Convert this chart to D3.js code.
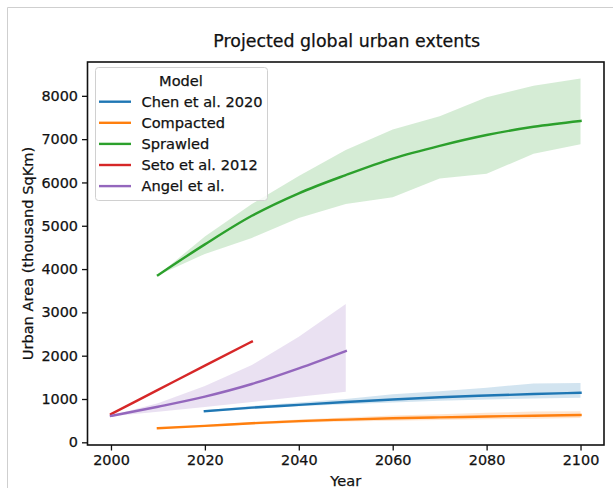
<!DOCTYPE html>
<html>
<head>
<meta charset="utf-8">
<script src="https://cdn.jsdelivr.net/npm/d3@7/dist/d3.min.js"></script>
<style>
  html, body { margin: 0; padding: 0; background: #fff; }
  svg { display: block; font-family: "DejaVu Sans", sans-serif; }
  .txt { fill: #111; stroke: #111; stroke-width: 0.25px; }
</style>
</head>
<body>
<svg id="chart" width="613" height="488"></svg>
<script>
// Projected global urban extent (thousand sq km) by model, per decade
const xTicks = [2000, 2020, 2040, 2060, 2080, 2100];
const yTicks = [0, 1000, 2000, 3000, 4000, 5000, 6000, 7000, 8000];

const chenYears  = [2020, 2030, 2040, 2050, 2060, 2070, 2080, 2090, 2100];
const chenMean   = [720, 800, 865, 930, 990, 1040, 1080, 1115, 1145];
const chenUpper  = [740, 840, 920, 1000, 1110, 1180, 1260, 1360, 1370];
const chenLower  = [700, 770, 830, 880, 920, 960, 990, 1010, 1030];

const compYears  = [2010, 2020, 2030, 2040, 2050, 2060, 2070, 2080, 2090, 2100];
const compMean   = [325, 380, 440, 490, 525, 555, 575, 595, 615, 630];
const compUpper  = [335, 400, 465, 525, 575, 620, 650, 680, 710, 720];
const compLower  = [315, 360, 410, 450, 480, 500, 515, 530, 545, 560];

const sprawlYears = [2010, 2020, 2030, 2040, 2050, 2060, 2070, 2080, 2090, 2100];
const sprawlMean  = [3860, 4570, 5230, 5750, 6170, 6550, 6845, 7095, 7285, 7420];
const sprawlUpper = [3860, 4750, 5500, 6150, 6750, 7220, 7530, 7970, 8230, 8400];
const sprawlLower = [3860, 4350, 4720, 5180, 5500, 5660, 6090, 6200, 6660, 6880];

const setoYears  = [2000, 2010, 2020, 2030];
const setoMean   = [650, 1210, 1770, 2325];

const angelYears = [2000, 2010, 2020, 2030, 2040, 2050];
const angelMean  = [610, 822, 1055, 1346, 1708, 2108];
const angelUpper = [620, 900, 1300, 1785, 2440, 3195];
const angelLower = [600, 705, 815, 930, 1050, 1168];

const seriesNames = ["Chen et al. 2020", "Compacted", "Sprawled", "Seto et al. 2012", "Angel et al."];
const seriesColors = ["#1f77b4", "#ff7f0e", "#2ca02c", "#d62728", "#9467bd"];

const series = [
  { years: chenYears,   mean: chenMean,   upper: chenUpper,   lower: chenLower },
  { years: compYears,   mean: compMean,   upper: compUpper,   lower: compLower },
  { years: sprawlYears, mean: sprawlMean, upper: sprawlUpper, lower: sprawlLower },
  { years: setoYears,   mean: setoMean },
  { years: angelYears,  mean: angelMean,  upper: angelUpper,  lower: angelLower }
].map((s, i) => ({ ...s, name: seriesNames[i], color: seriesColors[i] }));

const svg = d3.select("#chart");
const W = 613, H = 488;
const margin = { left: 87.5, right: 9, top: 62, bottom: 43 };
const plotW = W - margin.left - margin.right;
const plotH = H - margin.top - margin.bottom;

// thin grey page border
svg.append("path")
  .attr("d", `M7.5,${H} V7.5 H${W}`)
  .attr("fill", "none").attr("stroke", "#cfcfcf").attr("stroke-width", 1);

const x = d3.scaleLinear().domain([1995, 2105]).range([0, plotW]);
const y = d3.scaleLinear().domain([-62, 8781]).range([plotH, 0]);

const g = svg.append("g").attr("transform", `translate(${margin.left},${margin.top})`);

const area = d3.area()
  .x(d => x(d.year)).y0(d => y(d.lo)).y1(d => y(d.hi));
const line = d3.line()
  .x(d => x(d.year)).y(d => y(d.v))
  .curve(d3.curveMonotoneX);

// uncertainty bands
series.forEach(s => {
  if (!s.upper) return;
  const pts = s.years.map((yr, i) => ({ year: yr, lo: s.lower[i], hi: s.upper[i] }));
  g.append("path").datum(pts)
    .attr("d", area)
    .attr("fill", s.color).attr("fill-opacity", 0.2);
});

// central estimates
series.forEach(s => {
  const pts = s.years.map((yr, i) => ({ year: yr, v: s.mean[i] }));
  g.append("path").datum(pts)
    .attr("d", line)
    .attr("fill", "none")
    .attr("stroke", s.color).attr("stroke-width", 2.4)
    .attr("stroke-linecap", "square");
});

// axes
const xAxis = d3.axisBottom(x).tickValues(xTicks).tickFormat(d3.format("d"))
  .tickSize(5.5).tickPadding(4);
const yAxis = d3.axisLeft(y).tickValues(yTicks).tickFormat(d3.format("d"))
  .tickSize(5.5).tickPadding(4);

const gx = g.append("g").attr("transform", `translate(0,${plotH})`).call(xAxis);
const gy = g.append("g").call(yAxis);
[gx, gy].forEach(a => {
  a.select(".domain").remove();
  a.selectAll(".tick line").attr("stroke", "#111").attr("stroke-width", 1.3);
  a.selectAll(".tick text").attr("class", "txt")
    .style("font-size", "14.4px").style("font-family", "DejaVu Sans, sans-serif");
});

// plot frame
g.append("rect")
  .attr("x", 0).attr("y", 0).attr("width", plotW).attr("height", plotH)
  .attr("fill", "none").attr("stroke", "#111").attr("stroke-width", 1.6);

// title and axis labels
svg.append("text").attr("class", "txt")
  .attr("x", margin.left + plotW / 2 + 1).attr("y", 47)
  .attr("text-anchor", "middle")
  .style("font-size", "17.4px")
  .text("Projected global urban extents");

svg.append("text").attr("class", "txt")
  .attr("x", margin.left + plotW / 2).attr("y", 486)
  .attr("text-anchor", "middle")
  .style("font-size", "14.6px")
  .text("Year");

svg.append("text").attr("class", "txt")
  .attr("transform", `translate(33,${margin.top + plotH / 2}) rotate(-90)`)
  .attr("text-anchor", "middle")
  .style("font-size", "14.6px")
  .text("Urban Area (thousand SqKm)");

// legend
const lg = svg.append("g").attr("transform", "translate(95,67)");
lg.append("rect")
  .attr("x", 0.5).attr("y", 0.5).attr("width", 172).attr("height", 133)
  .attr("rx", 3).attr("ry", 3)
  .attr("fill", "#fff").attr("fill-opacity", 0.8)
  .attr("stroke", "#d0d0d0").attr("stroke-width", 1);
lg.append("text").attr("class", "txt")
  .attr("x", 86).attr("y", 18.5)
  .attr("text-anchor", "middle")
  .style("font-size", "14.6px")
  .text("Model");
series.forEach((s, i) => {
  const cy = 34.7 + i * 21.1;
  lg.append("line")
    .attr("x1", 4).attr("x2", 36).attr("y1", cy).attr("y2", cy)
    .attr("stroke", s.color).attr("stroke-width", 2.4);
  lg.append("text").attr("class", "txt")
    .attr("x", 46.5).attr("y", cy + 5)
    .style("font-size", "14.6px")
    .text(s.name);
});
</script>
</body>
</html>
